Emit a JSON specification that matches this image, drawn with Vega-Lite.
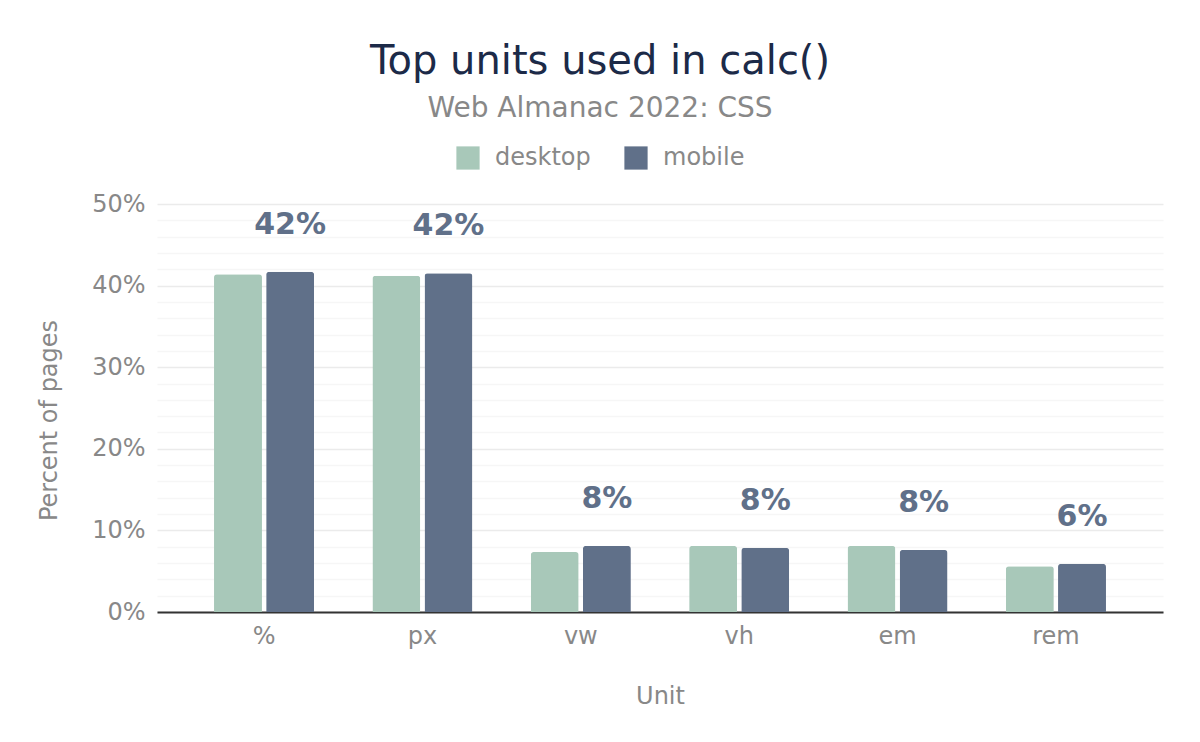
{
  "$schema": "https://vega.github.io/schema/vega-lite/v6.json",
  "width": 1006,
  "height": 408,
  "autosize": "none",
  "padding": {"left": 157, "top": 204, "right": 37, "bottom": 130},
  "background": "white",
  "title": {
    "text": "Top units used in calc()",
    "subtitle": "Web Almanac 2022: CSS",
    "anchor": "middle",
    "frame": "group",
    "dx": -60,
    "fontSize": 40,
    "fontWeight": "normal",
    "font": "DejaVu Sans",
    "color": "#1c2a48",
    "subtitleFontSize": 28,
    "subtitleFont": "DejaVu Sans",
    "subtitleColor": "#888888",
    "subtitlePadding": 13,
    "offset": 23
  },
  "config": {
    "font": "DejaVu Sans",
    "view": {"stroke": null},
    "axis": {"labelColor": "#888888", "titleColor": "#888888", "labelFontSize": 24, "titleFontSize": 24, "titleFontWeight": "normal", "ticks": false},
    "legend": {"labelColor": "#888888", "labelFontSize": 24}
  },
  "data": {
    "values": [
      {"unit": "%", "client": "desktop", "value": 0.414},
      {"unit": "%", "client": "mobile", "value": 0.417},
      {"unit": "px", "client": "desktop", "value": 0.412},
      {"unit": "px", "client": "mobile", "value": 0.4152},
      {"unit": "vw", "client": "desktop", "value": 0.0735},
      {"unit": "vw", "client": "mobile", "value": 0.081},
      {"unit": "vh", "client": "desktop", "value": 0.081},
      {"unit": "vh", "client": "mobile", "value": 0.0785},
      {"unit": "em", "client": "desktop", "value": 0.081},
      {"unit": "em", "client": "mobile", "value": 0.076},
      {"unit": "rem", "client": "desktop", "value": 0.056},
      {"unit": "rem", "client": "mobile", "value": 0.059}
    ]
  },
  "encoding": {
    "x": {
      "field": "unit",
      "type": "nominal",
      "sort": ["%", "px", "vw", "vh", "em", "rem"],
      "scale": {"paddingInner": 0.368, "paddingOuter": 0.36},
      "axis": {"title": "Unit", "labelAngle": 0, "labelPadding": 12, "titlePadding": 36, "domainColor": "#333333", "domainWidth": 2, "grid": false}
    },
    "xOffset": {"field": "client", "type": "nominal", "scale": {"domain": ["desktop", "mobile"], "paddingInner": 0.08}},
    "y": {
      "field": "value",
      "type": "quantitative",
      "scale": {"domain": [0, 0.5], "nice": false},
      "axis": {
        "title": "Percent of pages",
        "values": [0, 0.02, 0.04, 0.06, 0.08, 0.1, 0.12, 0.14, 0.16, 0.18, 0.2, 0.22, 0.24, 0.26, 0.28, 0.3, 0.32, 0.34, 0.36, 0.38, 0.4, 0.42, 0.44, 0.46, 0.48, 0.5],
        "format": ".0%",
        "labelExpr": "round(datum.value*100) % 10 == 0 ? datum.label : ''",
        "domain": false,
        "labelPadding": 12,
        "titlePadding": 30,
        "titleY": 216,
        "gridColor": {"condition": {"test": "round(datum.value*100) % 10 == 0", "value": "#ebebeb"}, "value": "#f6f6f6"},
        "gridWidth": 1.5
      }
    }
  },
  "layer": [
    {
      "mark": {"type": "bar", "cornerRadiusTopLeft": 3, "cornerRadiusTopRight": 3},
      "encoding": {
        "color": {
          "field": "client",
          "type": "nominal",
          "scale": {"domain": ["desktop", "mobile"], "range": ["#a8c8b9", "#607089"]},
          "legend": {"title": null, "orient": "none", "direction": "horizontal", "legendX": 299, "legendY": -58, "symbolType": "square", "symbolSize": 540, "symbolOpacity": 1, "symbolStrokeWidth": 0, "columnPadding": 33, "labelOffset": 15}
        }
      }
    },
    {
      "transform": [{"filter": "datum.client == 'mobile'"}],
      "mark": {"type": "text", "baseline": "alphabetic", "dy": -38, "fontSize": 30, "fontWeight": "bold", "color": "#607089"},
      "encoding": {
        "text": {"field": "value", "type": "quantitative", "format": ".0%"}
      }
    }
  ]
}
